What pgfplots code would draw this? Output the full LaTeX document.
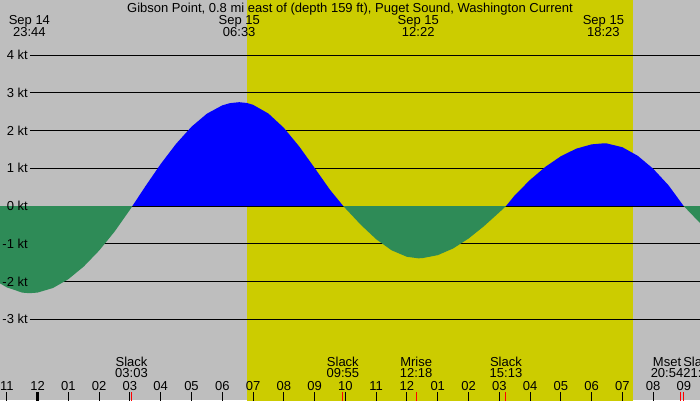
\documentclass[border=0pt]{standalone}
\usepackage{fontspec}
\setmainfont{Liberation Sans}
\usepackage{pgfplots}
\pgfplotsset{compat=1.18}
\definecolor{bggray}{HTML}{BEBEBE}
\definecolor{dayyel}{HTML}{CCCC00}
\definecolor{ebbgreen}{HTML}{2E8B57}
\definecolor{floodblue}{HTML}{0000FF}

\begin{document}
\begin{tikzpicture}[lbl/.style={font=\fontsize{9.4}{11}\selectfont, inner sep=0pt, anchor=base}]
\begin{axis}[
    width=7in, height=4in, scale only axis,
    hide axis,
    xmin=-1.2216, xmax=21.521,
    ymin=-5.139, ymax=5.457
]
% background and daylight
\fill[bggray] (rel axis cs:0,0) rectangle (rel axis cs:1,1);
\fill[dayyel] (axis cs:6.803,-6) rectangle (axis cs:19.343,6);

% knot lines
\pgfplotsinvokeforeach{4,3,2,1,0,-1,-2,-3}{
    \draw[line width=0.72pt] (axis cs:-0.247,#1) -- (axis cs:22,#1);
}

% flood (positive)
\addplot[fill=floodblue, draw=none] coordinates {
    (3.08,0)(3.5,0.520)(4.0,1.113)(4.5,1.648)(5.0,2.100)(5.5,2.445)(6.0,2.666)
    (6.25,2.725)(6.55,2.75)(6.8,2.729)(7.0,2.681)(7.5,2.449)(8.0,2.071)
    (8.5,1.577)(9.0,1.009)(9.5,0.429)(9.93,0)
};
\addplot[fill=floodblue, draw=none] coordinates {
    (15.22,0)(15.5,0.281)(16.0,0.692)(16.5,1.039)(17.0,1.318)(17.5,1.519)
    (18.0,1.633)(18.38,1.66)(18.5,1.656)(19.0,1.557)(19.5,1.329)(20.0,0.987)
    (20.5,0.547)(20.99,0)
};
\draw[line width=0.72pt] (axis cs:-0.247,0) -- (axis cs:22,0);

% ebb (negative)
\addplot[fill=ebbgreen, draw=none] coordinates {
    (-1.2216,0)(-1.2216,-2.049)(-1.0,-2.155)(-0.5,-2.294)(-0.267,-2.31)
    (0,-2.293)(0.5,-2.172)(1.0,-1.938)(1.5,-1.603)(2.0,-1.180)(2.5,-0.680)
    (3.0,-0.100)(3.08,0)
};
\addplot[fill=ebbgreen, draw=none] coordinates {
    (9.93,0)(10.0,-0.062)(10.5,-0.497)(11.0,-0.880)(11.5,-1.173)(12.0,-1.346)
    (12.37,-1.385)(12.5,-1.381)(13.0,-1.302)(13.5,-1.125)(14.0,-0.863)
    (14.5,-0.536)(15.0,-0.168)(15.22,0)
};
\addplot[fill=ebbgreen, draw=none] coordinates {
    (20.99,0)(21.25,-0.221)(21.521,-0.449)(21.521,0)
};

% knot labels
\node[lbl, anchor=base east] at (axis cs:-0.312,3.878) {4 kt};
\node[lbl, anchor=base east] at (axis cs:-0.312,2.878) {3 kt};
\node[lbl, anchor=base east] at (axis cs:-0.312,1.878) {2 kt};
\node[lbl, anchor=base east] at (axis cs:-0.312,0.878) {1 kt};
\node[lbl, anchor=base east] at (axis cs:-0.312,-0.122) {0 kt};
\node[lbl, anchor=base east] at (axis cs:-0.312,-1.122) {-1 kt};
\node[lbl, anchor=base east] at (axis cs:-0.312,-2.122) {-2 kt};
\node[lbl, anchor=base east] at (axis cs:-0.312,-3.122) {-3 kt};

% title and extremes
\node[lbl] at (axis cs:10.149,5.139) {Gibson Point, 0.8 mi east of (depth 159 ft), Puget Sound, Washington Current};
\node[lbl] at (axis cs:-0.267,4.821) {Sep 14};
\node[lbl] at (axis cs:-0.267,4.503) {23:44};
\node[lbl] at (axis cs:6.55,4.821) {Sep 15};
\node[lbl] at (axis cs:6.55,4.503) {06:33};
\node[lbl] at (axis cs:12.367,4.821) {Sep 15};
\node[lbl] at (axis cs:12.367,4.503) {12:22};
\node[lbl] at (axis cs:18.383,4.821) {Sep 15};
\node[lbl] at (axis cs:18.383,4.503) {18:23};

% hour ticks
\pgfplotsinvokeforeach{-1,...,21}{
    \draw[line width=0.72pt] (axis cs:#1,-4.927) -- (axis cs:#1,-5.3);
}
\draw[line width=2.4pt] (axis cs:0,-4.927) -- (axis cs:0,-5.3);
\pgfplotsinvokeforeach{3.05,9.917,12.3,15.217,20.9,21.0}{
    \draw[red, line width=0.72pt] (axis cs:#1,-4.927) -- (axis cs:#1,-5.3);
}

% hour labels
\node[lbl] at (axis cs:-1,-4.874) {11};
\node[lbl] at (axis cs:0,-4.874) {12};
\node[lbl] at (axis cs:1,-4.874) {01};
\node[lbl] at (axis cs:2,-4.874) {02};
\node[lbl] at (axis cs:3,-4.874) {03};
\node[lbl] at (axis cs:4,-4.874) {04};
\node[lbl] at (axis cs:5,-4.874) {05};
\node[lbl] at (axis cs:6,-4.874) {06};
\node[lbl] at (axis cs:7,-4.874) {07};
\node[lbl] at (axis cs:8,-4.874) {08};
\node[lbl] at (axis cs:9,-4.874) {09};
\node[lbl] at (axis cs:10,-4.874) {10};
\node[lbl] at (axis cs:11,-4.874) {11};
\node[lbl] at (axis cs:12,-4.874) {12};
\node[lbl] at (axis cs:13,-4.874) {01};
\node[lbl] at (axis cs:14,-4.874) {02};
\node[lbl] at (axis cs:15,-4.874) {03};
\node[lbl] at (axis cs:16,-4.874) {04};
\node[lbl] at (axis cs:17,-4.874) {05};
\node[lbl] at (axis cs:18,-4.874) {06};
\node[lbl] at (axis cs:19,-4.874) {07};
\node[lbl] at (axis cs:20,-4.874) {08};
\node[lbl] at (axis cs:21,-4.874) {09};

% events
\node[lbl] at (axis cs:3.05,-4.238) {Slack};
\node[lbl] at (axis cs:3.05,-4.548) {03:03};
\node[lbl] at (axis cs:9.917,-4.238) {Slack};
\node[lbl] at (axis cs:9.917,-4.548) {09:55};
\node[lbl] at (axis cs:12.3,-4.238) {Mrise};
\node[lbl] at (axis cs:12.3,-4.548) {12:18};
\node[lbl] at (axis cs:15.217,-4.238) {Slack};
\node[lbl] at (axis cs:15.217,-4.548) {15:13};
\node[lbl] at (axis cs:20.45,-4.238) {Mset};
\node[lbl] at (axis cs:20.45,-4.548) {20:54};
\node[lbl, anchor=base west] at (axis cs:20.969,-4.238) {Slack};
\node[lbl, anchor=base west] at (axis cs:20.969,-4.548) {21:00};
\end{axis}
\pgfresetboundingbox
\path[use as bounding box] (current axis.south west) rectangle (current axis.north east);
\end{tikzpicture}
\end{document}
